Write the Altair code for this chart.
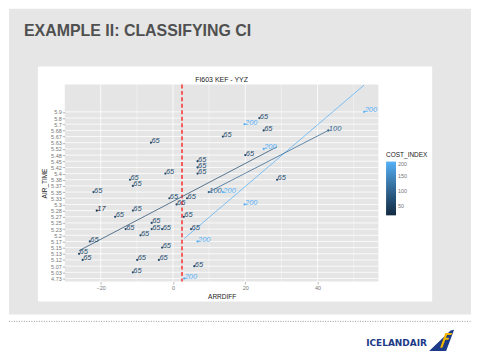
import altair as alt
import pandas as pd

# ---- data ----
air_levels = ["4.73", "5.03", "5.07", "5.12", "5.13", "5.15", "5.17", "5.2", "5.23",
              "5.25", "5.27", "5.28", "5.3", "5.33", "5.35", "5.37", "5.38", "5.4",
              "5.42", "5.45", "5.48", "5.52", "5.63", "5.67", "5.68", "5.7", "5.8", "5.9"]

arrdiff = [-6.1, 6.8, 6.8, 6.8, -2.1, -11.9, -11.1, -22.0, -1.0, 3.9, 1.0, -21.1, -11.1,
           -16.0, 3.0, -5.9, -13.1, -5.9, -3.0, 5.0, -9.0, 6.8, -23.0, -3.0, -26.0, -25.0,
           -9.9, -3.9, 5.9, -11.1, 3.1, 9.9, 52.9, 23.9, 19.8, 25.1, 43.0, 13.8, 25.1,
           20.0, 28.8, 13.8, 19.8]
air_time = ["5.63", "5.45", "5.42", "5.4", "5.4", "5.38", "5.37", "5.35", "5.33", "5.33",
            "5.3", "5.28", "5.28", "5.27", "5.27", "5.25", "5.23", "5.23", "5.23", "5.23",
            "5.2", "5.17", "5.17", "5.15", "5.13", "5.12", "5.12", "5.12", "5.07", "5.03",
            "4.73", "5.35", "5.9", "5.8", "5.7", "5.68", "5.68", "5.67", "5.52", "5.48",
            "5.38", "5.35", "5.3"]
cost_index = [65, 65, 65, 65, 65, 65, 65, 65, 65, 65, 65, 17, 65, 65, 65, 65, 65, 65, 65,
              65, 65, 200, 65, 65, 65, 65, 65, 65, 65, 65, 200, 100, 200, 65, 200, 65, 100,
              65, 200, 65, 65, 200, 200]

x_major = [-20, 0, 20, 40]
x_minor = [-10, 10, 30, 50]
cutoff = [2.5]
ci_ticks = [50, 100, 150, 200]

df = pd.DataFrame({"ARRDIFF": arrdiff, "AIR_TIME": air_time, "COST_INDEX": cost_index})
df["yi"] = [air_levels.index(a) for a in air_time]
df["label"] = df["COST_INDEX"].astype(str)

FONT = "Liberation Sans"
one = pd.DataFrame({"k": [0]})

xs = alt.Scale(domain=[-29.95, 56.85], nice=False, zero=False)
ys = alt.Scale(domain=[-0.5, 31.45], nice=False, zero=False)
cs = alt.Scale(domain=[17, 200], range=["#132B43", "#56B1F7"], interpolate="lab")

label_js = "[" + ",".join("'" + s + "'" for s in air_levels) + "][datum.value]"

xaxis = alt.Axis(title="ARRDIFF", values=x_major, grid=False, domain=False,
                 tickColor="#888888", tickSize=2.5, tickWidth=0.6,
                 labelFontSize=5.5, labelColor="#777777", labelPadding=1, labelFont=FONT,
                 titleFontSize=6.5, titleFontWeight="normal", titleColor="#222222",
                 titleFont=FONT, titlePadding=3, zindex=1)
yaxis = alt.Axis(title="AIR_TIME", values=list(range(len(air_levels))), labelExpr=label_js,
                 grid=False, domain=False, tickColor="#888888", tickSize=2.5, tickWidth=0.6,
                 labelFontSize=5.5, labelColor="#777777", labelPadding=1, labelFont=FONT,
                 labelOverlap=False,
                 titleFontSize=6.5, titleFontWeight="normal", titleColor="#222222",
                 titleFont=FONT, titlePadding=3, zindex=1)
legend = alt.Legend(title="COST_INDEX", type="gradient", orient="none", legendX=322.7,
                    legendY=68, direction="vertical", gradientLength=54,
                    gradientThickness=10, values=ci_ticks, titleFontSize=6.5,
                    titleFontWeight="normal", titleColor="#222222", titleFont=FONT,
                    labelFontSize=5.5, labelColor="#777777", labelFont=FONT,
                    titlePadding=3, labelOffset=2, gradientStrokeWidth=0)


def X():
    return alt.X("ARRDIFF:Q", scale=xs, axis=xaxis)


def Y():
    return alt.Y("yi:Q", scale=ys, axis=yaxis)


def C(show=False):
    if show:
        return alt.Color("COST_INDEX:Q", scale=cs, legend=legend)
    return alt.Color("COST_INDEX:Q", scale=cs, legend=None)


def box(x1, y1, x2, y2, color):
    return alt.Chart(one).mark_rect(color=color).encode(
        x=alt.value(x1), x2=alt.value(x2), y=alt.value(y1), y2=alt.value(y2))


slide_bg = box(-56, -76, 408, 231, "#E6E6E6")
chart_bg = box(-27, -18, 369, 218, "#FFFFFF")
panel_bg = box(0, 0, 315, 198, "#E5E5E5")

hgrid = alt.Chart(pd.DataFrame({"yi": list(range(len(air_levels)))})).mark_rule(
    color="white", strokeWidth=0.8).encode(y=Y())
vgrid = alt.Chart(pd.DataFrame({"ARRDIFF": x_major})).mark_rule(
    color="white", strokeWidth=0.8).encode(x=X())
vgrid_minor = alt.Chart(pd.DataFrame({"ARRDIFF": x_minor})).mark_rule(
    color="white", strokeWidth=0.4, clip=True).encode(x=X())

vline = alt.Chart(pd.DataFrame({"ARRDIFF": cutoff})).mark_rule(
    color="#FF0000", strokeDash=[4, 2.5], strokeWidth=1.2).encode(x=X())

lines = alt.Chart(df).transform_filter("datum.COST_INDEX != 17").transform_regression(
    "ARRDIFF", "yi", groupby=["COST_INDEX"]).mark_line(
    clip=True, strokeWidth=1, opacity=0.75).encode(
    x=X(), y=Y(), color=C(), detail="COST_INDEX:N")

points = alt.Chart(df).mark_circle(size=5, opacity=1).encode(x=X(), y=Y(), color=C(True))
labels = alt.Chart(df).mark_text(align="left", baseline="alphabetic", dx=0.5, dy=0.5,
                                 fontSize=7.5, fontStyle="italic", font=FONT).encode(
    x=X(), y=Y(), color=C(), text="label:N")

panel_title = alt.Chart(one).mark_text(text="FI603 KEF - YYZ", align="center",
                                       baseline="middle", fontSize=7, font=FONT,
                                       color="#222222").encode(
    x=alt.value(157.5), y=alt.value(-4))

slide_title = alt.Chart(one).mark_text(text="EXAMPLE II: CLASSIFYING CI", align="left",
                                       baseline="alphabetic", fontSize=16,
                                       fontWeight="bold", font=FONT,
                                       color="#505050").encode(
    x=alt.value(-41), y=alt.value(-49))

dotted = alt.Chart(one).mark_rule(color="#9A9A9A", strokeDash=[1, 1.5],
                                  strokeWidth=1).encode(
    x=alt.value(-56), x2=alt.value(408), y=alt.value(238))

logo_text = alt.Chart(one).mark_text(text="ICELANDAIR", align="left",
                                     baseline="alphabetic", fontSize=9,
                                     fontWeight="bold", font="DejaVu Sans",
                                     color="#1B3A87").encode(
    x=alt.value(302.7), y=alt.value(262.5))

fin_path = "M -1 0.85 L 0.36 0.85 L 1 -0.85 L 0.72 -0.78 Z"
f_path = ("M -0.12 0.6 L 0.06 0.6 L 0.3 -0.05 L 0.55 -0.05 L 0.6 -0.2 L 0.35 -0.2 "
          "L 0.44 -0.42 L 0.78 -0.42 L 0.84 -0.58 L 0.3 -0.58 Z")
logo_fin = alt.Chart(one).mark_point(shape=fin_path, filled=True, size=625,
                                     color="#1B3A87", opacity=1).encode(
    x=alt.value(378.5), y=alt.value(257))
logo_f = alt.Chart(one).mark_point(shape=f_path, filled=True, size=625,
                                   color="#F2B600", opacity=1).encode(
    x=alt.value(378.5), y=alt.value(257))

chart = alt.layer(
    slide_bg, chart_bg, panel_bg, hgrid, vgrid, vgrid_minor, vline, lines, points, labels,
    panel_title, slide_title, dotted, logo_text, logo_fin, logo_f
).resolve_legend(color="independent").properties(
    width=315, height=198, padding=0, background="white").configure_view(
    stroke="transparent")

chart.save("out.html", embed_options={"renderer": "svg", "actions": False})
